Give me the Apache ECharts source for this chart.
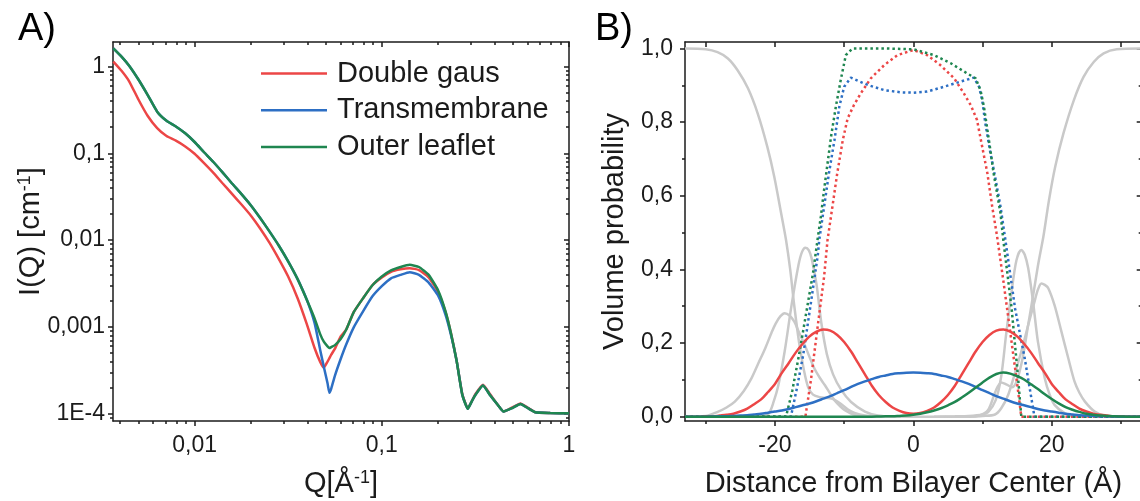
<!DOCTYPE html>
<html>
<head>
<meta charset="utf-8">
<script src="https://cdn.jsdelivr.net/npm/echarts@6/dist/echarts.min.js"></script>
<style>
  html, body { margin: 0; padding: 0; background: #fff; }
  #chart { width: 1140px; height: 501px; }
</style>
</head>
<body>
<div id="chart"></div>
<script>
// ---- panel A: scattering curves, I(Q) on log-log axes ----
const qA = [0.00368, 0.00407, 0.00447, 0.00501, 0.00562, 0.00631, 0.00708, 0.00794, 0.00891, 0.01,
  0.0112, 0.0126, 0.0141, 0.0158, 0.0178, 0.02, 0.0224, 0.0251, 0.0282, 0.0316,
  0.0355, 0.0398, 0.0437, 0.0468, 0.049, 0.0513, 0.0525, 0.0537, 0.0562, 0.0603,
  0.0646, 0.0708, 0.0794, 0.0891, 0.1, 0.112, 0.126, 0.141, 0.158, 0.178,
  0.2, 0.219, 0.234, 0.251, 0.269, 0.288, 0.302, 0.316, 0.347, 0.38,
  0.417, 0.447, 0.501, 0.55, 0.603, 0.661, 0.794, 1.0];
const doubleGausA = [1.14, 0.893, 0.676, 0.417, 0.269, 0.195, 0.158, 0.140, 0.120, 0.0989,
  0.0776, 0.0596, 0.0452, 0.0343, 0.0257, 0.0191, 0.0136, 0.00933, 0.00603, 0.0038,
  0.00214, 0.00107, 0.000575, 0.000398, 0.000339, 0.000398, 0.000437, 0.000479, 0.000562, 0.000776,
  0.000933, 0.00148, 0.00214, 0.00302, 0.00372, 0.00432, 0.00462, 0.00475, 0.00452, 0.00372,
  0.00251, 0.00148, 0.000851, 0.000407, 0.00017, 0.000115, 0.000138, 0.000168, 0.000216, 0.000166,
  0.000126, 0.000106, 0.000119, 0.000131, 0.000117, 0.000104, 0.000102, 0.000101];
const transmembraneA = [1.62, 1.30, 1.02, 0.708, 0.468, 0.302, 0.237, 0.204, 0.170, 0.135,
  0.1035, 0.0794, 0.0603, 0.0452, 0.0339, 0.0251, 0.018, 0.0126, 0.00861, 0.00569,
  0.00355, 0.00204, 0.00112, 0.00055, 0.000347, 0.000224, 0.000174, 0.000195, 0.000275, 0.000427,
  0.000631, 0.000989, 0.00151, 0.00225, 0.00295, 0.00363, 0.00398, 0.00427, 0.00398, 0.00324,
  0.00229, 0.00138, 0.000813, 0.000407, 0.000166, 0.000114, 0.000138, 0.000164, 0.000211, 0.000162,
  0.000126, 0.000106, 0.000117, 0.000129, 0.000116, 0.000104, 0.000102, 0.000101];
const outerLeafletA = [1.62, 1.30, 1.02, 0.708, 0.468, 0.302, 0.237, 0.204, 0.170, 0.135,
  0.1035, 0.0794, 0.0603, 0.0452, 0.0339, 0.0251, 0.018, 0.0126, 0.00861, 0.00569,
  0.00355, 0.00204, 0.00126, 0.000832, 0.000676, 0.000596, 0.00057, 0.000586, 0.000617, 0.000724,
  0.000933, 0.00148, 0.00214, 0.00302, 0.0038, 0.00447, 0.0049, 0.00519, 0.0049, 0.00398,
  0.00263, 0.00151, 0.000851, 0.000407, 0.000166, 0.000114, 0.000138, 0.000164, 0.000211, 0.000162,
  0.000126, 0.000106, 0.000117, 0.000129, 0.000116, 0.000104, 0.000102, 0.000101];
const legendNames = ['Double gaus', 'Transmembrane', 'Outer leaflet'];
const qTicks = [0.01, 0.1, 1];
const iTicks = [0.0001, 0.001, 0.01, 0.1, 1];
const decadeLabels = { '0': '1', '-1': '0,1', '-2': '0,01', '-3': '0,001', '-4': '1E-4' };

// ---- panel B: volume probability profiles ----
const zB = [-33, -32, -31, -30, -29, -28, -27, -26, -25, -24, -23, -22, -21, -20, -19, -18, -17,
  -16, -15, -14, -13, -12, -11, -10, -9, -8, -7, -6, -5, -4, -3, -2, -1, 0,
  1, 2, 3, 4, 5, 6, 7, 8, 9, 10, 11, 12, 13, 14, 15, 16, 17,
  18, 19, 20, 21, 22, 23, 24, 25, 26, 27, 28, 29, 30, 31, 32, 33];
const doubleGausB = [0, 0, 0, 0.001, 0.001, 0.003, 0.005, 0.008, 0.014, 0.022, 0.034, 0.047, 0.067, 0.089, 0.119, 0.146, 0.174,
  0.198, 0.218, 0.231, 0.237, 0.234, 0.222, 0.203, 0.177, 0.146, 0.115, 0.084, 0.059, 0.040, 0.025, 0.016, 0.010, 0.008,
  0.010, 0.016, 0.025, 0.040, 0.059, 0.084, 0.115, 0.146, 0.177, 0.203, 0.222, 0.234, 0.237, 0.231, 0.218, 0.198, 0.174,
  0.146, 0.119, 0.089, 0.067, 0.047, 0.034, 0.022, 0.014, 0.008, 0.005, 0.003, 0.001, 0.001, 0, 0, 0];
const transmembraneB = [0, 0, 0, 0, 0.0005, 0.001, 0.001, 0.002, 0.003, 0.004, 0.006, 0.008, 0.011, 0.014, 0.017, 0.021, 0.026,
  0.031, 0.036, 0.042, 0.049, 0.056, 0.064, 0.072, 0.081, 0.089, 0.096, 0.102, 0.108, 0.112, 0.116, 0.118, 0.1195, 0.120,
  0.1195, 0.118, 0.116, 0.112, 0.108, 0.102, 0.096, 0.089, 0.081, 0.072, 0.064, 0.056, 0.049, 0.042, 0.036, 0.031, 0.026,
  0.021, 0.017, 0.014, 0.011, 0.008, 0.006, 0.004, 0.003, 0.002, 0.001, 0.001, 0.0005, 0, 0, 0, 0];
const outerLeafletB = [0, 0, 0, 0, 0, 0, 0, 0, 0, 0, 0, 0, 0, 0, 0, 0, 0,
  0, 0, 0, 0, 0, 0, 0, 0, 0, 0, 0, 0.0005, 0.001, 0.001, 0.002, 0.003, 0.005,
  0.008, 0.012, 0.017, 0.023, 0.031, 0.040, 0.052, 0.065, 0.079, 0.093, 0.106, 0.116, 0.120, 0.117, 0.110, 0.101, 0.088,
  0.075, 0.061, 0.048, 0.036, 0.026, 0.019, 0.013, 0.008, 0.005, 0.003, 0.002, 0.001, 0.0005, 0, 0, 0];

// dotted profiles [distance, probability]
const doubleGausCore = [[-33, 0], [-15.6, 0], [-14.8, 0.10], [-13.8, 0.249], [-12.9, 0.38], [-12.4, 0.48],
  [-11.7, 0.57], [-11.0, 0.661], [-10.2, 0.751], [-9.5, 0.81], [-8.6, 0.846], [-7.6, 0.878], [-6.15, 0.919],
  [-4.2, 0.955], [-2.3, 0.982], [0, 0.996], [2.0, 0.982], [3.9, 0.955], [5.9, 0.919], [7.3, 0.878],
  [8.3, 0.846], [9.2, 0.806], [9.95, 0.733], [10.7, 0.661], [11.4, 0.57], [12.1, 0.49], [13, 0.37],
  [14, 0.23], [15, 0.09], [15.6, 0], [33, 0]];
const transmembraneCore = [[-33, 0], [-17.7, 0], [-16.8, 0.08], [-15.9, 0.17], [-14.8, 0.31], [-13.8, 0.44],
  [-13.6, 0.48], [-12.9, 0.57], [-12.2, 0.661], [-11.4, 0.751], [-10.7, 0.842], [-10.0, 0.896], [-9.04, 0.921],
  [-6.6, 0.901], [-4.2, 0.887], [-1.8, 0.881], [0, 0.88], [2.0, 0.883], [4.4, 0.896], [6.8, 0.91],
  [8.75, 0.921], [9.5, 0.896], [9.95, 0.86], [10.4, 0.797], [11.15, 0.715], [11.9, 0.643], [12.6, 0.57],
  [13.3, 0.48], [14.7, 0.294], [16.1, 0.158], [17.5, 0], [33, 0]];
const outerLeafletCore = [[-33, 0], [-18.4, 0], [-17.5, 0.07], [-16.5, 0.17], [-15.5, 0.28], [-14.5, 0.39],
  [-13.85, 0.48], [-13.37, 0.543], [-12.9, 0.616], [-12.4, 0.688], [-11.9, 0.76], [-11.2, 0.842], [-10.5, 0.914],
  [-9.76, 0.982], [-8.8, 1.0], [-4, 1.0], [0, 0.998], [3.0, 0.982], [5.4, 0.96], [7.8, 0.932], [9.0, 0.919],
  [9.7, 0.887], [10.2, 0.842], [10.7, 0.779], [11.2, 0.715], [11.6, 0.661], [12.1, 0.607], [12.6, 0.552],
  [13.0, 0.48], [14.2, 0.294], [15.1, 0.113], [15.6, 0], [33, 0]];

// grey component profiles [distance, probability]
const waterB = [[-33, 1.0], [-30, 0.998], [-28.3, 0.99], [-26.8, 0.973], [-25.4, 0.941], [-23.9, 0.892],
  [-22.5, 0.824], [-21.1, 0.733], [-20.1, 0.652], [-19.1, 0.552], [-18.4, 0.48], [-17.8, 0.40], [-17.2, 0.30],
  [-16.5, 0.20], [-15.8, 0.125], [-15.2, 0.08], [-14.5, 0.06], [-13.5, 0.053], [-12.5, 0.051], [-11.5, 0.047],
  [-10.5, 0.035], [-9.5, 0.02], [-8.5, 0.01], [-7, 0.003], [-5, 0], [8, 0], [9.5, 0.003], [10.8, 0.018],
  [11.9, 0.07], [12.7, 0.093], [13.5, 0.087], [14.3, 0.08], [15.0, 0.10], [15.8, 0.16], [16.6, 0.25],
  [17.4, 0.34], [18.1, 0.42], [18.8, 0.49], [19.6, 0.588], [20.5, 0.679], [21.7, 0.77], [23.2, 0.86],
  [24.6, 0.923], [26.1, 0.964], [27.5, 0.987], [29.4, 0.998], [33, 1.0]];
const headBroadLeft = [[-33, 0], [-30, 0.002], [-28.2, 0.014], [-27, 0.025], [-25.8, 0.041], [-24.5, 0.07],
  [-23.4, 0.104], [-22.4, 0.145], [-21.4, 0.186], [-20.5, 0.228], [-19.9, 0.253], [-19.2, 0.273], [-18.6, 0.281],
  [-17.9, 0.275], [-17.2, 0.258], [-16.5, 0.228], [-15.7, 0.195], [-15, 0.162], [-14.3, 0.131], [-13.5, 0.105],
  [-12.8, 0.086], [-12, 0.062], [-11.4, 0.045], [-10.5, 0.027], [-9.9, 0.018], [-8.5, 0.005], [-7, 0.001], [-5, 0]];
const headNarrowLeft = [[-24, 0], [-22, 0.001], [-20.9, 0.009], [-20.2, 0.04], [-19.5, 0.086], [-18.6, 0.177],
  [-17.6, 0.303], [-16.6, 0.412], [-16.1, 0.447], [-15.6, 0.459], [-15.1, 0.452], [-14.7, 0.43], [-14.0, 0.36],
  [-13.3, 0.255], [-12.5, 0.17], [-11.6, 0.115], [-10.4, 0.072], [-9.0, 0.04], [-7.0, 0.014], [-5.1, 0.003], [-3, 0]];
const headNarrowRight = [[3, 0], [6, 0.001], [8, 0.002], [10, 0.006], [10.8, 0.012], [11.9, 0.045], [12.7, 0.11],
  [13.4, 0.222], [14.2, 0.34], [14.9, 0.425], [15.6, 0.453], [16.1, 0.44], [16.6, 0.403], [17.3, 0.312],
  [18.0, 0.204], [19.0, 0.104], [19.7, 0.06], [20.4, 0.032], [21.9, 0.009], [23, 0.002], [25, 0]];
const headBroadRight = [[8, 0], [10, 0.002], [11.8, 0.006], [12.7, 0.023], [13.7, 0.059], [14.6, 0.113],
  [15.6, 0.177], [16.6, 0.249], [17.5, 0.312], [18.0, 0.345], [18.5, 0.362], [19.0, 0.358], [19.5, 0.349],
  [20.4, 0.303], [21.4, 0.231], [22.4, 0.158], [23.3, 0.095], [24.0, 0.065], [24.8, 0.041], [26.2, 0.014],
  [27.6, 0.003], [30, 0], [33, 0]];
const zTicks = [-20, 0, 20];
const zMinorTicks = [-30, -10, 10, 30];
const pTicks = [0, 0.2, 0.4, 0.6, 0.8, 1.0];
const pMinorTicks = [0.1, 0.3, 0.5, 0.7, 0.9];

// minor ticks of the log axes: 2..9 in every decade
function logMinor(lo, hi) {
  const out = [];
  for (let d = lo; d < hi; d++) {
    for (let m = 2; m <= 9; m++) out.push(m * Math.pow(10, d));
  }
  return out;
}
const qMinorTicks = logMinor(-3, 0);
const iMinorTicks = logMinor(-5, 0);

const FONT = '"Liberation Sans", Arial, Helvetica, sans-serif';
const INK = '#1b1b1b';
const RED = '#ec4646';
const BLUE = '#2d6fc4';
const GREEN = '#1f8650';
const GREY = '#c9c9c9';

const axisLine = { color: INK, width: 1.5 };
const tickFont = { fontSize: 23, fontFamily: FONT, color: INK };
const nameFont = {
  fontSize: 29, fontFamily: FONT, color: INK,
  rich: { sup: { fontSize: 18, fontFamily: FONT, color: INK, verticalAlign: 'top', lineHeight: 18 } },
};

// an axis that only draws a frame line and/or a set of ticks
function tickAxis(base, position, values, length, inside, showLine) {
  return Object.assign({}, base, {
    position,
    axisLine: { show: showLine, onZero: false, lineStyle: axisLine },
    axisTick: { show: true, inside, length, customValues: values, lineStyle: axisLine },
    axisLabel: { show: false },
    splitLine: { show: false },
    silent: true,
  });
}

const qBase = { gridIndex: 0, type: 'log', logBase: 10, min: 0.003665, max: 1 };
const iBase = { gridIndex: 0, type: 'log', logBase: 10, min: 0.0000824, max: 1.916 };
const zBase = { gridIndex: 1, type: 'value', min: -33, max: 33 };
const pBase = { gridIndex: 1, type: 'value', min: -0.0117, max: 1.0177 };

const decade = (v) => decadeLabels[String(Math.round(Math.log10(v)))] || '';
const comma = (v) => v.toFixed(1).replace('.', ',');

const xAxes = [
  Object.assign({}, qBase, {
    position: 'bottom',
    axisLine: { show: true, onZero: false, lineStyle: axisLine },
    axisTick: { show: true, inside: false, length: 5, customValues: qTicks, lineStyle: axisLine },
    axisLabel: Object.assign({ customValues: qTicks, formatter: decade, margin: 13 }, tickFont),
    splitLine: { show: false },
    name: 'Q[Å{sup|-1}]', nameLocation: 'middle', nameGap: 48, nameTextStyle: nameFont, nameMoveOverlap: false,
  }),
  tickAxis(qBase, 'bottom', qMinorTicks, 3, false, false),
  tickAxis(qBase, 'top', qTicks, 5, true, true),
  tickAxis(qBase, 'top', qMinorTicks, 3, true, false),
  Object.assign({}, zBase, {
    position: 'bottom',
    axisLine: { show: true, onZero: false, lineStyle: axisLine },
    axisTick: { show: true, inside: false, length: 5, customValues: zTicks, lineStyle: axisLine },
    axisLabel: Object.assign({ customValues: zTicks, margin: 13 }, tickFont),
    splitLine: { show: false },
    name: 'Distance from Bilayer Center (Å)', nameLocation: 'middle', nameGap: 48,
    nameTextStyle: nameFont, nameMoveOverlap: false,
  }),
  tickAxis(zBase, 'bottom', zMinorTicks, 3, false, false),
  tickAxis(zBase, 'top', zTicks.concat(zMinorTicks), 5, true, true),
];

const yAxes = [
  Object.assign({}, iBase, {
    position: 'left',
    axisLine: { show: true, onZero: false, lineStyle: axisLine },
    axisTick: { show: true, inside: false, length: 5, customValues: iTicks, lineStyle: axisLine },
    axisLabel: Object.assign({ customValues: iTicks, formatter: decade, margin: 8 }, tickFont),
    splitLine: { show: false },
    name: 'I(Q) [cm{sup|-1}]', nameLocation: 'middle', nameGap: 68, nameTextStyle: nameFont, nameMoveOverlap: false,
  }),
  tickAxis(iBase, 'left', iMinorTicks, 3, false, false),
  tickAxis(iBase, 'right', iTicks, 5, true, true),
  tickAxis(iBase, 'right', iMinorTicks, 3, true, false),
  Object.assign({}, pBase, {
    position: 'left',
    axisLine: { show: true, onZero: false, lineStyle: axisLine },
    axisTick: { show: true, inside: false, length: 5, customValues: pTicks, lineStyle: axisLine },
    axisLabel: Object.assign({ customValues: pTicks, formatter: comma, margin: 12 }, tickFont),
    splitLine: { show: false },
    name: 'Volume probability', nameLocation: 'middle', nameGap: 56, nameTextStyle: nameFont, nameMoveOverlap: false,
  }),
  tickAxis(pBase, 'left', pMinorTicks, 3, false, false),
  tickAxis(pBase, 'right', pTicks, 5, true, true),
  tickAxis(pBase, 'right', pMinorTicks, 3, true, false),
];

function curve(name, data, color, axis, extra) {
  return Object.assign({
    type: 'line', name, data, xAxisIndex: axis, yAxisIndex: axis,
    symbol: 'none', showSymbol: false, smooth: 0.2, silent: true,
    lineStyle: { color, width: 2.5 }, itemStyle: { color },
  }, extra);
}
const pairs = (xs, ys) => xs.map((x, i) => [x, ys[i]]);
const dotted = (color) => ({ smooth: false, lineStyle: { color, width: 2.5, type: [2.5, 3] } });

const series = [
  curve(legendNames[0], pairs(qA, doubleGausA), RED, 0, { smooth: 0.15 }),
  curve(legendNames[1], pairs(qA, transmembraneA), BLUE, 0, { smooth: 0.15 }),
  curve(legendNames[2], pairs(qA, outerLeafletA), GREEN, 0, { smooth: 0.15 }),

  curve('water', waterB, GREY, 4, { smooth: 0.3 }),
  curve('head broad L', headBroadLeft, GREY, 4, { smooth: 0.3 }),
  curve('head narrow L', headNarrowLeft, GREY, 4, { smooth: 0.3 }),
  curve('head narrow R', headNarrowRight, GREY, 4, { smooth: 0.3 }),
  curve('head broad R', headBroadRight, GREY, 4, { smooth: 0.3 }),

  curve('dg core', doubleGausCore, RED, 4, dotted(RED)),
  curve('tm core', transmembraneCore, BLUE, 4, dotted(BLUE)),
  curve('ol core', outerLeafletCore, GREEN, 4, dotted(GREEN)),

  curve('dg B', pairs(zB, doubleGausB), RED, 4, { smooth: 0.3 }),
  curve('tm B', pairs(zB, transmembraneB), BLUE, 4, { smooth: 0.3 }),
  curve('ol B', pairs(zB, outerLeafletB), GREEN, 4, { smooth: 0.3 }),
];

const chart = echarts.init(document.getElementById('chart'), null, { renderer: 'canvas' });
chart.setOption({
  animation: false,
  backgroundColor: '#ffffff',
  textStyle: { fontFamily: FONT },
  grid: [
    { left: 113, top: 42, width: 456, height: 379, containLabel: false, outerBoundsMode: 'none' },
    { left: 685, top: 42, width: 456.7, height: 379, containLabel: false, outerBoundsMode: 'none' },
  ],
  xAxis: xAxes,
  yAxis: yAxes,
  legend: {
    data: [
      { name: legendNames[0], itemStyle: { color: RED } },
      { name: legendNames[1], itemStyle: { color: BLUE } },
      { name: legendNames[2], itemStyle: { color: GREEN } },
    ],
    orient: 'vertical', left: 261, top: 59, padding: 0,
    icon: 'rect', itemWidth: 66, itemHeight: 2.5, itemGap: 7.7,
    selectedMode: false,
    textStyle: { fontSize: 29, fontFamily: FONT, color: INK, lineHeight: 29, padding: [0, 0, 0, 5] },
  },
  graphic: [
    { type: 'text', x: 18, y: 30, style: { text: 'A)', fontSize: 38, fontFamily: FONT, fill: '#000', verticalAlign: 'middle' } },
    { type: 'text', x: 595, y: 30, style: { text: 'B)', fontSize: 38, fontFamily: FONT, fill: '#000', verticalAlign: 'middle' } },
  ],
  series,
});
</script>
</body>
</html>
